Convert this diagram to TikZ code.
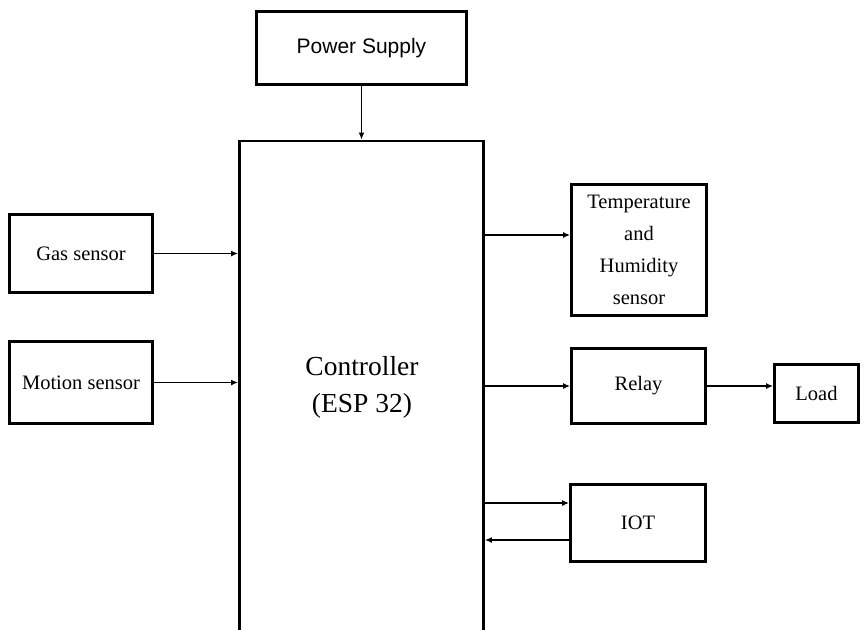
\documentclass[tikz,border=0pt]{standalone}
\usepackage{fontspec}
\setmainfont{Liberation Serif}
\newfontfamily\psfont{Liberation Sans}
\usetikzlibrary{arrows.meta,positioning,calc}

\tikzset{
  block/.style={draw, line width=2.8pt, fill=white, align=center, inner sep=2pt,
    font=\fontsize{20.5}{32}\selectfont},
  link/.style={-{Latex[length=7pt,width=6pt]}, line width=1.5pt}
}

\begin{document}
\begin{tikzpicture}[x=1pt, y=-1pt]
\clip (0,0) rectangle (864,629);
\fill[white] (0,0) rectangle (864,629);

% supply and controller
\node[block, minimum width=210pt, minimum height=73pt, font=\psfont\fontsize{21}{24}\selectfont] (power) at (361.5,48) {Power Supply};
\node[block, minimum width=244pt, minimum height=520pt, anchor=north] (ctrl) at (361.5,139.5) {};
\node[font=\fontsize{27.5}{37}\selectfont, align=center] (ctrltext) at (362,387) {Controller\\(ESP 32)};

% inputs
\node[block, minimum width=143pt, minimum height=78pt] (gas) at (81,253.5) {Gas sensor};
\node[block, minimum width=143pt, minimum height=82pt] (motion) at (81,382.5) {Motion sensor};

% outputs
\node[block, minimum width=135pt, minimum height=131pt] (temp) at (639,250) {Temperature\\and\\Humidity\\sensor};
\node[block, minimum width=134pt, minimum height=75pt] (relay) at (638.5,386) {Relay};
\node[block, minimum width=84pt, minimum height=58pt] (load) at (816.5,393.5) {Load};
\node[block, minimum width=135pt, minimum height=77pt] (iot) at (638,523) {IOT};

% connectors
\draw[link] (power.south) -- (power.south |- ctrl.north);
\draw[link] (gas.east) -- (gas.east -| ctrl.west);
\draw[link] (motion.east) -- (motion.east -| ctrl.west);
\draw[link] ([yshift=15pt]temp.west -| ctrl.east) -- ([yshift=15pt]temp.west);
\draw[link] (relay.west -| ctrl.east) -- (relay.west);
\draw[link] (relay.east) -- (relay.east -| load.west);
\draw[link] ([yshift=20pt]iot.west -| ctrl.east) -- ([yshift=20pt]iot.west);
\draw[link] ([yshift=-17pt]iot.west) -- ([yshift=-17pt]iot.west -| ctrl.east);
\end{tikzpicture}
\end{document}
